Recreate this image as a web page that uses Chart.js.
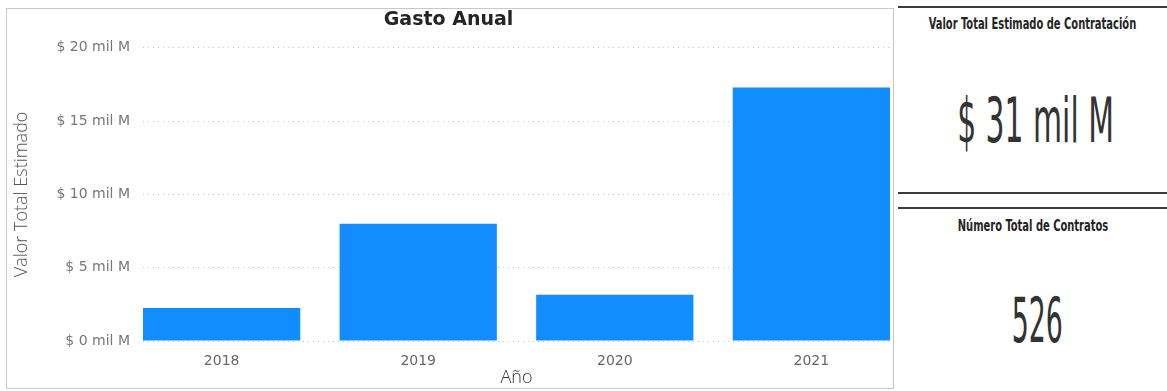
<!DOCTYPE html>
<html>
<head>
<meta charset="utf-8">
<script src="https://cdn.jsdelivr.net/npm/chart.js@4.4.1/dist/chart.umd.min.js"></script>
<style>
  html, body { margin: 0; padding: 0; background: #fff; }
  body { width: 1167px; height: 391px; position: relative; overflow: hidden; }
  #panel {
    position: absolute; left: 6px; top: 8px; width: 888px; height: 381px;
    border: 1px solid #c8c8c8; box-sizing: border-box;
  }
  #wrap { position: absolute; left: 7px; top: 9px; width: 887px; height: 380px; }
  .rule { position: absolute; left: 898px; width: 269px; height: 2px; background: #3c3c3c; }
  .kpi {
    position: absolute; left: 898px; width: 269px; color: #252423;
    display: flex; justify-content: center;
  }
  .kpi span { display: inline-block; flex-shrink: 0; white-space: nowrap; transform-origin: 50% 50%; }
  .kpi-title { font-family: "Liberation Sans Narrow", "DejaVu Sans Condensed", sans-serif; font-weight: bold; font-size: 16px; }
  .kpi-value { font-family: "Liberation Sans Narrow", "DejaVu Sans Condensed", sans-serif; font-size: 62px; color: #333; }
</style>
</head>
<body>
<div id="panel"></div>
<div id="wrap"><canvas id="chart"></canvas></div>

<div class="rule" style="top:6px"></div>
<div class="rule" style="top:192px"></div>
<div class="rule" style="top:207px"></div>

<div class="kpi kpi-title" style="top:14px"><span id="t1" style="transform:scaleX(0.69)"></span></div>
<div class="kpi kpi-value" style="top:84px; left:901px"><span id="v1" style="transform:scaleX(0.535)"></span></div>
<div class="kpi kpi-title" style="top:216px"><span id="t2" style="transform:scaleX(0.69)"></span></div>
<div class="kpi kpi-value" style="top:284px; left:903px"><span id="v2" style="transform:scaleX(0.48)"></span></div>

<script>
// datos (miles de millones)
const years = ['2018', '2019', '2020', '2021']
const gastoAnual = [2.25, 8.0, 3.15, 17.3]
const yMax = 20
const yStep = 5

const kpiTitles = ['Valor Total Estimado de Contratación', 'Número Total de Contratos']
const kpiValues = ['$ 31 mil M', '526']

document.getElementById('t1').textContent = kpiTitles[0]
document.getElementById('v1').textContent = kpiValues[0]
document.getElementById('t2').textContent = kpiTitles[1]
document.getElementById('v2').textContent = kpiValues[1]

const points = years.map((y, i) => ({ x: i, y: gastoAnual[i] }))

new Chart(document.getElementById('chart'), {
  type: 'bar',
  data: {
    datasets: [{
      label: 'Valor Total Estimado',
      data: points,
      backgroundColor: '#118DFF',
      borderWidth: 0,
      barPercentage: 0.8,
      categoryPercentage: 1
    }]
  },
  options: {
    responsive: true,
    maintainAspectRatio: false,
    animation: false,
    layout: { padding: { left: 0, right: 4, top: 0, bottom: 0 } },
    plugins: {
      legend: { display: false },
      tooltip: { enabled: false },
      title: {
        display: true,
        text: 'Gasto Anual',
        color: '#252423',
        font: { family: 'DejaVu Sans', size: 19, weight: 'bold' },
        padding: { top: 0, bottom: 16 }
      }
    },
    scales: {
      x: {
        type: 'linear',
        bounds: 'data',
        offset: false,
        min: -0.4,
        max: 3.4,
        grid: { display: false, offset: false },
        border: { display: false },
        afterBuildTicks: s => { s.ticks = years.map((_, i) => ({ value: i })) },
        ticks: {
          autoSkip: false,
          padding: 4,
          color: '#666',
          font: { family: 'DejaVu Sans', size: 14 },
          callback: v => years[v]
        },
        title: {
          display: true,
          text: 'Año',
          color: '#333',
          font: { family: 'Open Sans', size: 18, weight: 300 },
          padding: { top: 0, bottom: 0 }
        },
        afterFit: s => { s.height = 48 }
      },
      y: {
        min: 0,
        max: yMax,
        grid: { color: '#c4c4c4', lineWidth: 1, drawTicks: false },
        border: { display: false, dash: [1, 4] },
        ticks: {
          stepSize: yStep,
          padding: 13,
          color: '#777',
          font: { family: 'DejaVu Sans', size: 14 },
          callback: v => '$ ' + v + ' mil M'
        },
        title: {
          display: true,
          text: 'Valor Total Estimado',
          color: '#555',
          font: { family: 'Open Sans', size: 18, weight: 300 },
          padding: { top: 4, bottom: 0 }
        },
        afterFit: s => { s.width = 136 }
      }
    }
  }
})
</script>
</body>
</html>
